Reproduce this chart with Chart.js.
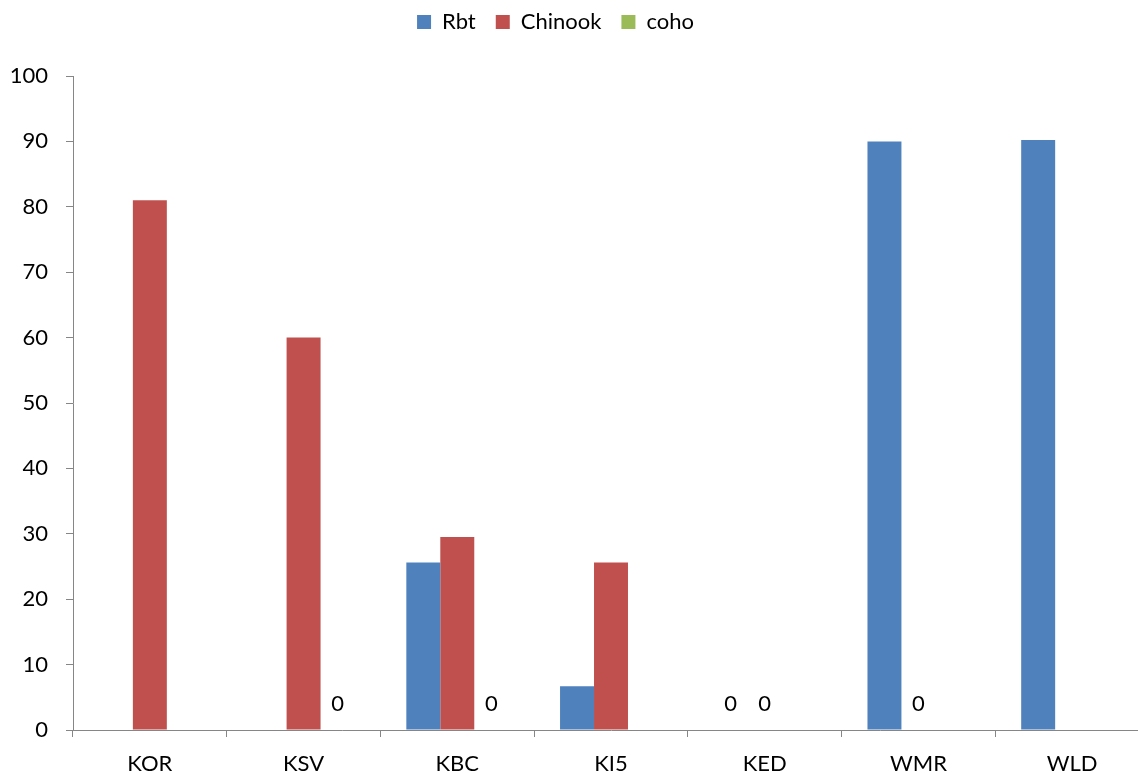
<!DOCTYPE html>
<html>
<head>
<meta charset="utf-8">
<script src="https://cdn.jsdelivr.net/npm/chart.js@4/dist/chart.umd.min.js"></script>
<style>
  html, body { margin: 0; padding: 0; background: #fff; overflow: hidden; }
  #wrap { position: relative; width: 1149px; height: 773px; }
</style>
</head>
<body>
<div id="wrap"><canvas id="c"></canvas></div>
<script>
// Sampling sites and catch percentages per species
const categories = ['KOR', 'KSV', 'KBC', 'KI5', 'KED', 'WMR', 'WLD'];
const rbt     = [null, null, 25.6, 6.7, 0, 90, 90.2];
const chinook = [81, 60, 29.5, 25.6, 0, 0, null];
const coho    = [null, 0, 0, null, null, null, null];
const yTicks  = [0, 10, 20, 30, 40, 50, 60, 70, 80, 90, 100];

const FONT = 'Lato, "Open Sans", sans-serif';
const AXIS = '#868686';

// Writes the value above bars whose value is exactly zero
const zeroLabels = {
  id: 'zeroLabels',
  afterDatasetsDraw(chart) {
    const ctx = chart.ctx;
    ctx.save();
    ctx.font = '22px ' + FONT;
    ctx.fillStyle = '#000';
    ctx.textAlign = 'center';
    ctx.textBaseline = 'middle';
    chart.data.datasets.forEach((ds, i) => {
      const meta = chart.getDatasetMeta(i);
      ds.data.forEach((v, j) => {
        if (v === 0) {
          const el = meta.data[j];
          ctx.fillText(String(v), el.x, el.y - 26);
        }
      });
    });
    ctx.restore();
  }
};

// Extra room under the legend, and a small nudge up and to the left
const legendSpacing = {
  id: 'legendSpacing',
  beforeInit(chart) {
    const fit = chart.legend.fit;
    chart.legend.fit = function () {
      fit.call(this);
      this.height += 24;
    };
  },
  afterLayout(chart) {
    const lg = chart.legend;
    lg.left -= 19;
    lg.right -= 19;
    lg.top -= 9;
    lg.bottom -= 9;
  }
};

new Chart(document.getElementById('c'), {
  type: 'bar',
  data: {
    labels: categories,
    datasets: [
      { label: 'Rbt', data: rbt, backgroundColor: '#4F81BD' },
      { label: 'Chinook', data: chinook, backgroundColor: '#C0504D' },
      { label: 'coho', data: coho, backgroundColor: '#9BBB59' }
    ]
  },
  options: {
    responsive: true,
    maintainAspectRatio: false,
    animation: false,
    layout: { padding: { left: 0, right: 0, top: 0, bottom: 0 } },
    datasets: { bar: { categoryPercentage: 0.663, barPercentage: 1.0 } },
    plugins: {
      tooltip: { enabled: false },
      legend: {
        position: 'top',
        labels: {
          font: { family: FONT, size: 22 },
          color: '#000',
          boxWidth: 14,
          boxHeight: 14,
          padding: 20
        }
      }
    },
    scales: {
      x: {
        grid: { display: true, drawOnChartArea: false, drawTicks: true, tickLength: 7, color: AXIS, offset: true },
        border: { display: true, color: AXIS, width: 1 },
        ticks: { font: { family: FONT, size: 22 }, color: '#000', padding: 14, maxRotation: 0 },
        afterFit(scale) { scale.height = 43; }
      },
      y: {
        min: 0,
        max: 100,
        afterBuildTicks(scale) { scale.ticks = yTicks.map(v => ({ value: v })); },
        grid: { display: true, drawOnChartArea: false, drawTicks: true, tickLength: 7, color: AXIS },
        border: { display: true, color: AXIS, width: 1 },
        ticks: { font: { family: FONT, size: 22 }, color: '#000', padding: 18 },
        afterFit(scale) { scale.width = 73; }
      }
    }
  },
  plugins: [zeroLabels, legendSpacing]
});
</script>
</body>
</html>
